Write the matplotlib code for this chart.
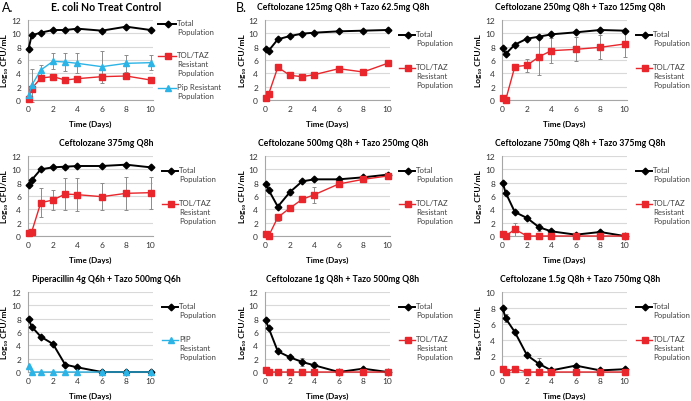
import matplotlib
matplotlib.use('Agg')
import matplotlib.pyplot as plt

plt.rcParams['font.family'] = ['Lato', 'DejaVu Sans']

# sampling times (days)
days = [0, 0.25, 1, 2, 3, 4, 6, 8, 10]

# A. E. coli no treat control
ctrl_total = [7.7, 9.7, 10.1, 10.5, 10.5, 10.7, 10.4, 11.0, 10.5]
ctrl_tol = [0.2, 1.7, 3.3, 3.5, 3.0, 3.2, 3.5, 3.6, 3.0]
ctrl_tol_err = [0, 0, 0, 0, 0, 0, 0.3, 0, 0]
ctrl_pip = [0.7, 2.2, 4.5, 5.8, 5.7, 5.5, 5.0, 5.5, 5.6]
ctrl_pip_err = [0, 2.5, 0.8, 1.2, 1.3, 1.5, 2.4, 1.3, 1.1]

# B. ceftolozane / tazobactam regimens
c125_total = [7.6, 7.4, 9.1, 9.6, 9.95, 10.1, 10.3, 10.4, 10.5]
c125_tol = [0.3, 0.9, 4.9, 3.7, 3.5, 3.8, 4.7, 4.2, 5.5]

c250_total = [7.8, 6.9, 8.3, 9.2, 9.5, 9.85, 10.15, 10.5, 10.4]
c250_tol = [0.3, 0.0, 5.0, 5.2, 6.5, 7.4, 7.6, 7.9, 8.4]
c250_tol_err = [0, 0, 0.3, 1.0, 2.7, 1.9, 1.8, 1.8, 1.9]

c375_total = [7.7, 8.4, 10.0, 10.3, 10.4, 10.5, 10.5, 10.7, 10.3]
c375_tol = [0.4, 0.6, 5.0, 5.4, 6.3, 6.2, 5.9, 6.4, 6.5]
c375_tol_err = [0, 0, 2.2, 1.5, 2.4, 2.5, 2.0, 2.5, 2.4]

c500_total = [7.8, 6.9, 4.4, 6.6, 8.2, 8.5, 8.5, 8.8, 9.2]
c500_total_err = [0, 0, 0, 0.5, 0, 0, 0, 0, 0]
c500_tol = [0.3, 0.0, 2.8, 4.2, 5.5, 6.2, 7.8, 8.5, 9.0]
c500_tol_err = [0, 0, 0.5, 0, 0, 1.2, 0, 0, 0]

c750_total = [8.0, 6.5, 3.6, 2.7, 1.3, 0.7, 0.2, 0.6, 0.0]
c750_total_err = [0, 0, 0, 0, 0.5, 0, 0, 0, 0]
c750_tol = [0.3, 0.0, 1.0, 0.0, 0.0, 0.0, 0.0, 0.0, 0.0]
c750_tol_err = [0, 0, 1.0, 0, 0, 0, 0, 0, 0]

pip_total = [8.0, 6.8, 5.3, 4.2, 1.1, 0.7, 0.0, 0.0, 0.0]
pip_res = [0.9, 0.0, 0.0, 0.0, 0.0, 0.0, 0.0, 0.0, 0.0]

c1g_total = [7.8, 6.6, 3.1, 2.2, 1.5, 1.0, 0.0, 0.5, 0.0]
c1g_total_err = [0, 0, 0, 0, 0.6, 0.5, 0, 0, 0]
c1g_tol = [0.3, 0.0, 0.0, 0.0, 0.0, 0.0, 0.0, 0.0, 0.0]

c15g_total = [8.0, 6.7, 5.0, 2.1, 1.0, 0.2, 0.8, 0.2, 0.35]
c15g_total_err = [0, 0.5, 0, 0, 0.7, 0, 0, 0, 0]
c15g_tol = [0.4, 0.0, 0.4, 0.0, 0.0, 0.0, 0.0, 0.0, 0.0]

BLACK = '#000000'
RED = '#e8262b'
BLUE = '#2cb4e6'
ERR = '#8c8c8c'

LBL_TOTAL = 'Total\nPopulation'
LBL_TOL = 'TOL/TAZ\nResistant\nPopulation'

total_style = dict(color=BLACK, marker='D', ms=3.4, lw=1.4)
tol_style = dict(color=RED, marker='s', ms=4.4, lw=1.0)
pip_style = dict(color=BLUE, marker='^', ms=4.6, lw=1.0)

panels = [
    ('E. coli No Treat Control', 12, 0, [
        (ctrl_total, None, total_style, LBL_TOTAL),
        (ctrl_tol, ctrl_tol_err, tol_style, LBL_TOL),
        (ctrl_pip, ctrl_pip_err, pip_style, 'Pip Resistant\nPopulation')]),
    ('Ceftolozane 125mg Q8h + Tazo 62.5mg Q8h', 12, 1, [
        (c125_total, None, total_style, LBL_TOTAL),
        (c125_tol, None, tol_style, LBL_TOL)]),
    ('Ceftolozane 250mg Q8h + Tazo 125mg Q8h', 12, 1, [
        (c250_total, None, total_style, LBL_TOTAL),
        (c250_tol, c250_tol_err, tol_style, LBL_TOL)]),
    ('Ceftolozane 375mg Q8h', 12, 1, [
        (c375_total, None, total_style, LBL_TOTAL),
        (c375_tol, c375_tol_err, tol_style, LBL_TOL)]),
    ('Ceftolozane 500mg Q8h + Tazo 250mg Q8h', 12, 1, [
        (c500_total, c500_total_err, total_style, LBL_TOTAL),
        (c500_tol, c500_tol_err, tol_style, LBL_TOL)]),
    ('Ceftolozane 750mg Q8h + Tazo 375mg Q8h', 12, 1, [
        (c750_total, c750_total_err, total_style, LBL_TOTAL),
        (c750_tol, c750_tol_err, tol_style, LBL_TOL)]),
    ('Piperacillin 4g Q6h + Tazo 500mg Q6h', 12, 1, [
        (pip_total, None, total_style, LBL_TOTAL),
        (pip_res, None, pip_style, 'PIP\nResistant\nPopulation')]),
    ('Ceftolozane 1g Q8h + Tazo 500mg Q8h', 12, 1, [
        (c1g_total, c1g_total_err, total_style, LBL_TOTAL),
        (c1g_tol, None, tol_style, LBL_TOL)]),
    ('Ceftolozane 1.5g Q8h + Tazo 750mg Q8h', 10, 1, [
        (c15g_total, c15g_total_err, total_style, LBL_TOTAL),
        (c15g_tol, None, tol_style, LBL_TOL)]),
]

W, H = 691, 402
fig = plt.figure(figsize=(W / 100, H / 100), dpi=100)

col_left = [28, 265, 502]
row_top = [21, 157, 293]
ax_w, ax_h = 125, 80

for i, (title, ymax, lstyle, series) in enumerate(panels):
    r, c = divmod(i, 3)
    left, top = col_left[c], row_top[r]
    ax = fig.add_axes([left / W, 1 - (top + ax_h) / H, ax_w / W, ax_h / H])
    ax.set_xlim(-0.05, 10.2)
    ax.set_ylim(0, ymax)
    ax.set_xticks(range(0, 11, 2))
    ax.set_yticks(range(0, ymax + 1, 2))
    ax.yaxis.grid(True, color='#d9d9d9', lw=0.8)
    ax.set_axisbelow(True)
    for s in ('top', 'right'):
        ax.spines[s].set_visible(False)
    for s in ('left', 'bottom'):
        ax.spines[s].set_color('#a6a6a6')
        ax.spines[s].set_linewidth(0.8)
    ax.tick_params(labelsize=6, colors='#333333', length=0, pad=3.5)
    ax.tick_params(axis='y', pad=5)

    for vals, err, st, lbl in series:
        ax.plot(days, vals, clip_on=False, zorder=3, **st)
        if err is not None:
            idx = [k for k, e in enumerate(err) if e > 0]
            ax.errorbar([days[k] for k in idx], [vals[k] for k in idx],
                        yerr=[err[k] for k in idx], fmt='none', ecolor=ERR,
                        elinewidth=0.7, capsize=1.6, capthick=0.7, zorder=2,
                        clip_on=False)

    ax.set_xlabel('Time (Days)', fontsize=5.9, fontweight='bold')
    ax.xaxis.set_label_coords(0.5, -19.5 / ax_h)
    ax.set_ylabel('Log₁₀ CFU/mL', fontsize=6, fontweight='bold')
    ax.yaxis.set_label_coords(-19.5 / ax_w, 0.5)

    tsize = 7.6 if i == 0 else 6.2
    ax.text(78 / ax_w, 1 + 13.5 / ax_h, title, transform=ax.transAxes,
            ha='center', va='center', fontsize=tsize, fontweight='bold')

    # legend drawn at the right of each plot
    if lstyle == 0:
        mx0, tx, y0, dy = 5, 24, 4, 32
    else:
        mx0, tx, y0, dy = 9, 26, 15, 32.5
    for j, (vals, err, st, lbl) in enumerate(series):
        yy = 1 - (y0 + j * dy) / ax_h
        ax.plot([1 + mx0 / ax_w, 1 + (tx - 1) / ax_w], [yy, yy],
                transform=ax.transAxes, clip_on=False, color=st['color'],
                lw=st['lw'])
        ax.plot([1 + (mx0 + tx) / 2 / ax_w], [yy], transform=ax.transAxes,
                clip_on=False, color=st['color'], marker=st['marker'],
                ms=st['ms'])
        ax.text(1 + tx / ax_w, yy + 5 / ax_h, lbl, transform=ax.transAxes,
                ha='left', va='top', fontsize=5.6, color='#404040',
                linespacing=1.35)

fig.text(2 / W, 1 - 7.5 / H, 'A.', fontsize=9, va='center', ha='left')
fig.text(236 / W, 1 - 7.5 / H, 'B.', fontsize=9, va='center', ha='left')

fig.savefig('out.png', dpi=100)
